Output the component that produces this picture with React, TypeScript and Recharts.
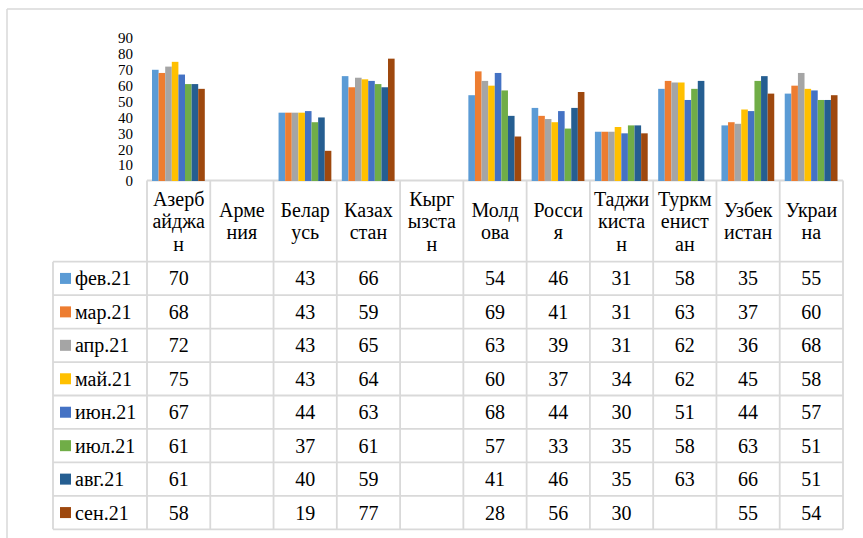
import React from "react";
import { BarChart, Bar, XAxis, YAxis } from "recharts";

const countries = ["Азербайджан", "Армения", "Беларусь", "Казахстан", "Кыргызстан", "Молдова", "Россия", "Таджикистан", "Туркменистан", "Узбекистан", "Украина"];
const countryLabelLines = [
  ["Азерб", "айджа", "н"],
  ["Арме", "ния"],
  ["Белар", "усь"],
  ["Казах", "стан"],
  ["Кырг", "ызста", "н"],
  ["Молд", "ова"],
  ["Росси", "я"],
  ["Таджи", "киста", "н"],
  ["Туркм", "енист", "ан"],
  ["Узбек", "истан"],
  ["Украи", "на"],
];
const months = ["фев.21", "мар.21", "апр.21", "май.21", "июн.21", "июл.21", "авг.21", "сен.21"];
const feb = [70, null, 43, 66, null, 54, 46, 31, 58, 35, 55];
const mar = [68, null, 43, 59, null, 69, 41, 31, 63, 37, 60];
const apr = [72, null, 43, 65, null, 63, 39, 31, 62, 36, 68];
const may = [75, null, 43, 64, null, 60, 37, 34, 62, 45, 58];
const jun = [67, null, 44, 63, null, 68, 44, 30, 51, 44, 57];
const jul = [61, null, 37, 61, null, 57, 33, 35, 58, 63, 51];
const aug = [61, null, 40, 59, null, 41, 46, 35, 63, 66, 51];
const sep = [58, null, 19, 77, null, 28, 56, 30, null, 55, 54];
const seriesValues = [feb, mar, apr, may, jun, jul, aug, sep];
const colors = ["#5B9BD5", "#ED7D31", "#A5A5A5", "#FFC000", "#4472C4", "#70AD47", "#255E91", "#9E480E"];
const yTicks = [0, 10, 20, 30, 40, 50, 60, 70, 80, 90];

const data = countries.map((c, i) => {
  const row: any = { country: c };
  months.forEach((m, k) => {
    row[m] = seriesValues[k][i];
  });
  return row;
});

const W = 863;
const H = 538;
const plotLeft = 147;
const plotRight = 843;
const plotTop = 38;
const plotBottom = 181;
const yAxisW = 60;
const lineColor = "#d9d9d9";

function Table() {
  const colW = (plotRight - plotLeft) / countries.length;
  const tableTop = 180.5;
  const headBottom = 261.7;
  const rowH = (529.3 - headBottom) / months.length;
  const legendLeft = 53;
  const els: React.ReactNode[] = [];
  for (let i = 0; i <= countries.length; i++) {
    const x = plotLeft + i * colW;
    els.push(<line key={"v" + i} x1={x} x2={x} y1={tableTop} y2={headBottom + rowH * months.length} stroke={lineColor} strokeWidth={1.8} />);
  }
  els.push(<line key="vl" x1={legendLeft} x2={legendLeft} y1={headBottom} y2={headBottom + rowH * months.length} stroke={lineColor} strokeWidth={1.8} />);
  els.push(<line key="ht" x1={plotLeft} x2={plotRight} y1={tableTop} y2={tableTop} stroke={lineColor} strokeWidth={1.8} />);
  for (let k = 0; k <= months.length; k++) {
    const y = headBottom + k * rowH;
    els.push(<line key={"h" + k} x1={legendLeft} x2={plotRight} y1={y} y2={y} stroke={lineColor} strokeWidth={1.8} />);
  }
  countryLabelLines.forEach((lines, i) => {
    const cx = plotLeft + (i + 0.5) * colW;
    const first = 228 - ((lines.length - 1) * 22.5) / 2;
    lines.forEach((t, j) => {
      els.push(
        <text key={"c" + i + "_" + j} x={cx} y={first + j * 22.5} textAnchor="middle" fontFamily="Liberation Serif" fontSize={20}>
          {t}
        </text>
      );
    });
  });
  months.forEach((m, k) => {
    const top = headBottom + k * rowH;
    const cy = top + rowH / 2;
    els.push(<rect key={"lg" + k} x={60} y={cy - 5.5} width={11} height={11} fill={colors[k]} />);
    els.push(
      <text key={"lt" + k} x={75} y={cy + 7} fontFamily="Liberation Serif" fontSize={20}>
        {m}
      </text>
    );
    seriesValues[k].forEach((v, i) => {
      if (v === null) return;
      els.push(
        <text key={"d" + k + "_" + i} x={plotLeft + (i + 0.5) * colW} y={cy + 7} textAnchor="middle" fontFamily="Liberation Serif" fontSize={20}>
          {v}
        </text>
      );
    });
  });
  return (
    <svg width={W} height={H} style={{ position: "absolute", left: 0, top: 0 }}>
      <line x1={7} x2={W} y1={9} y2={9} stroke={lineColor} strokeWidth={1.5} />
      <line x1={7} x2={7} y1={9} y2={H} stroke={lineColor} strokeWidth={1.5} />
      {els}
    </svg>
  );
}

export default function App() {
  return (
    <div style={{ position: "absolute", left: 0, top: 0, width: W, height: H, background: "#fff" }}>
      <Table />
      <div style={{ position: "absolute", left: 0, top: 0 }}>
        <BarChart
          width={W}
          height={H}
          data={data}
          margin={{ top: plotTop, left: plotLeft - yAxisW, right: W - plotRight, bottom: H - plotBottom }}
          barCategoryGap={5}
          barGap={0}
          barSize={6.6}
        >
          <XAxis dataKey="country" hide />
          <YAxis
            width={yAxisW}
            domain={[0, 90]}
            ticks={yTicks}
            interval={0}
            axisLine={false}
            tickLine={false}
            tickSize={6}
            tickMargin={8}
            tick={{ fontFamily: "Liberation Serif", fontSize: 15, fill: "#000" }}
          />
          {months.map((m, k) => (
            <Bar key={m} dataKey={m} fill={colors[k]} isAnimationActive={false} />
          ))}
        </BarChart>
      </div>
    </div>
  );
}
